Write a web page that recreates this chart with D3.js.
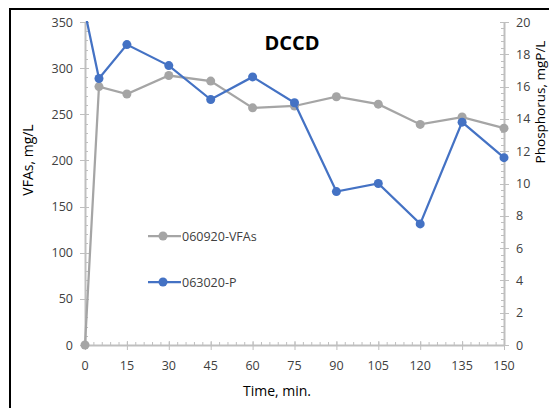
<!doctype html>
<html>
<head>
    <style>
        body { margin: 0; background: #fff; }
        text { font-family: 'Open Sans', 'Noto Sans', sans-serif; }
    </style>
    <script src="https://d3js.org/d3.v7.min.js"></script>
</head>
<body>
    <script>
        // data
        var times = [0, 5, 15, 30, 45, 60, 75, 90, 105, 120, 135, 150];
        var vfas = [0, 280, 272, 292, 286, 257, 259, 269, 261, 239, 247, 235];
        var phos = [20.6, 16.5, 18.6, 17.3, 15.2, 16.6, 15.0, 9.5, 10.0, 7.5, 13.8, 11.6];
        var xTicks = [0, 15, 30, 45, 60, 75, 90, 105, 120, 135, 150];
        var leftTicks = [0, 50, 100, 150, 200, 250, 300, 350];
        var rightTicks = [0, 2, 4, 6, 8, 10, 12, 14, 16, 18, 20];
        var seriesNames = ["060920-VFAs", "063020-P"];

        var W = 549, H = 408;
        var svg = d3.select("body").append("svg").attr("width", W).attr("height", H);

        // frame (only top and left edges are visible in the picture)
        svg.append("line").attr("x1", 10).attr("x2", W).attr("y1", 9).attr("y2", 9)
            .attr("stroke", "#000").attr("stroke-width", 2);
        svg.append("line").attr("x1", 10).attr("x2", 10).attr("y1", 8).attr("y2", H)
            .attr("stroke", "#000").attr("stroke-width", 2);

        var x = d3.scaleLinear().domain([0, 150]).range([85, 504]);
        var yL = d3.scaleLinear().domain([0, 350]).range([345, 22]);
        var yR = d3.scaleLinear().domain([0, 20]).range([345, 22]);

        var axisColor = "#bfbfbf", labelColor = "#404040";

        // minor ticks (inside the plot)
        var g = svg.append("g").attr("stroke", axisColor).attr("stroke-width", 1);
        d3.range(0, 151, 3).forEach(function(v) {
            g.append("line").attr("x1", x(v) + 0.5).attr("x2", x(v) + 0.5).attr("y1", 345).attr("y2", 342);
        });
        d3.range(0, 351, 10).forEach(function(v) {
            g.append("line").attr("x1", 85).attr("x2", 88).attr("y1", Math.round(yL(v)) + 0.5).attr("y2", Math.round(yL(v)) + 0.5);
        });
        d3.range(0, 20.01, 0.4).forEach(function(v) {
            g.append("line").attr("x1", 501).attr("x2", 504).attr("y1", Math.round(yR(v)) + 0.5).attr("y2", Math.round(yR(v)) + 0.5);
        });

        // major ticks (cross the axis)
        xTicks.forEach(function(v) {
            g.append("line").attr("x1", x(v) + 0.5).attr("x2", x(v) + 0.5).attr("y1", 341).attr("y2", 350);
        });
        leftTicks.forEach(function(v) {
            g.append("line").attr("x1", 80).attr("x2", 89).attr("y1", Math.round(yL(v)) + 0.5).attr("y2", Math.round(yL(v)) + 0.5);
        });
        rightTicks.forEach(function(v) {
            g.append("line").attr("x1", 500).attr("x2", 509).attr("y1", Math.round(yR(v)) + 0.5).attr("y2", Math.round(yR(v)) + 0.5);
        });

        // axis lines
        g.append("line").attr("x1", 85).attr("x2", 504).attr("y1", 345.5).attr("y2", 345.5).attr("stroke-width", 2);
        g.append("line").attr("x1", 85.5).attr("x2", 85.5).attr("y1", 22).attr("y2", 345).attr("stroke-width", 2);
        g.append("line").attr("x1", 504.5).attr("x2", 504.5).attr("y1", 22).attr("y2", 345).attr("stroke-width", 2);

        // tick labels
        svg.selectAll(".xl").data(xTicks).enter().append("text")
            .attr("x", function(d) { return x(d); }).attr("y", 370)
            .attr("text-anchor", "middle").attr("font-size", 12.5).attr("fill", labelColor)
            .text(function(d) { return d; });
        svg.selectAll(".yl").data(leftTicks).enter().append("text")
            .attr("x", 73).attr("y", function(d) { return yL(d) + 4.5; })
            .attr("text-anchor", "end").attr("font-size", 12.5).attr("fill", labelColor)
            .text(function(d) { return d; });
        svg.selectAll(".yr").data(rightTicks).enter().append("text")
            .attr("x", 516).attr("y", function(d) { return yR(d) + 4.5; })
            .attr("text-anchor", "start").attr("font-size", 12.5).attr("fill", labelColor)
            .text(function(d) { return d; });

        // axis titles
        svg.append("text").attr("transform", "translate(33,160) rotate(-90)")
            .attr("text-anchor", "middle").attr("font-size", 14).attr("fill", "#000")
            .text("VFAs, mg/L");
        svg.append("text").attr("transform", "translate(545,102) rotate(-90)")
            .attr("text-anchor", "middle").attr("font-size", 13.5).attr("fill", "#000")
            .text("Phosphorus, mgP/L");
        svg.append("text").attr("x", 277).attr("y", 396)
            .attr("text-anchor", "middle").attr("font-size", 14).attr("fill", "#000")
            .text("Time, min.");
        svg.append("text").attr("x", 292).attr("y", 50)
            .attr("text-anchor", "middle").attr("font-size", 20).attr("font-weight", "bold").attr("fill", "#000")
            .text("DCCD");

        // clip to plot area
        svg.append("clipPath").attr("id", "plot")
            .append("rect").attr("x", 70).attr("y", 21).attr("width", 450).attr("height", 340);

        var series = [
            { vals: vfas, y: yL, color: "#a5a5a5" },
            { vals: phos, y: yR, color: "#4472c4" }
        ];
        var plot = svg.append("g").attr("clip-path", "url(#plot)");
        series.forEach(function(s) {
            var line = d3.line().x(function(d, i) { return x(times[i]); }).y(function(d) { return s.y(d); });
            plot.append("path").datum(s.vals).attr("d", line)
                .attr("fill", "none").attr("stroke", s.color).attr("stroke-width", 2.25);
            plot.selectAll(null).data(s.vals).enter().append("circle")
                .attr("cx", function(d, i) { return x(times[i]); })
                .attr("cy", function(d) { return s.y(d); })
                .attr("r", 4.5).attr("fill", s.color);
        });

        // legend
        var legY = [236, 282];
        series.forEach(function(s, i) {
            svg.append("line").attr("x1", 148).attr("x2", 181).attr("y1", legY[i]).attr("y2", legY[i])
                .attr("stroke", s.color).attr("stroke-width", 2.25);
            svg.append("circle").attr("cx", 163).attr("cy", legY[i]).attr("r", 4.5).attr("fill", s.color);
            svg.append("text").attr("x", 182).attr("y", legY[i] + 4.5)
                .attr("font-size", 12.5).attr("fill", labelColor).text(seriesNames[i]);
        });
    </script>
</body>
</html>
